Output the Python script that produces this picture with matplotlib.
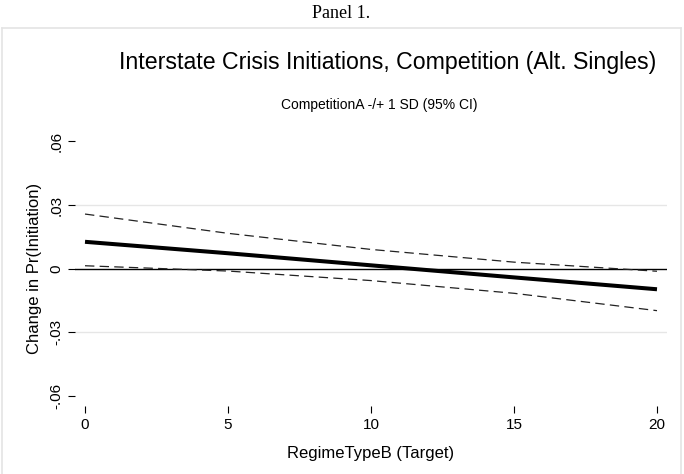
import numpy as np
from matplotlib import pyplot as plt
from matplotlib.lines import Line2D

# Data -------------------------------------------------------------------------
regime_type = [0, 5, 10, 15, 20]
change_pr = [0.0126, 0.0072, 0.0015, -0.0042, -0.0098]
ci_upper = [0.0257, 0.0166, 0.0090, 0.0030, -0.0013]
ci_lower = [0.0013, -0.0012, -0.0057, -0.0117, -0.0199]

x_ticks = [0, 5, 10, 15, 20]
y_ticks = [0.06, 0.03, 0, -0.03, -0.06]
y_tick_labels = ['.06', '.03', '0', '-.03', '-.06']
grid_levels = [0.03, -0.03]

W, H = 684, 474
fig = plt.figure(figsize=(W / 100, H / 100), dpi=100)
plt.rcParams['font.family'] = ['Liberation Sans', 'DejaVu Sans']

# outer frame (faint gray, top / left / right)
frame_color = '#e4e4e4'
for xs, ys in [((2, 681), (28, 28)), ((2, 2), (28, 474)), ((681, 681), (28, 474))]:
    fig.add_artist(Line2D([x / W for x in xs], [1 - y / H for y in ys],
                          color=frame_color, lw=1.2, transform=fig.transFigure))

ax = fig.add_axes([75 / W, 1 - 406 / H, 592 / W, 275 / H])

# grid and zero line
for g in grid_levels:
    ax.axhline(g, color='#e6e6e6', lw=1.0, zorder=1)
ax.axhline(0, color='black', lw=1.0, zorder=2)

# CI bounds and point estimate
ax.plot(regime_type, ci_upper, color='#222222', lw=0.9,
        linestyle=(0, (7.5, 4.2)), zorder=3)
ax.plot(regime_type, ci_lower, color='#222222', lw=0.9,
        linestyle=(0, (7.5, 4.2)), zorder=3)
ax.plot(regime_type, change_pr, color='black', lw=2.9,
        solid_capstyle='butt', zorder=4)

ax.set_xlim(-0.35, 20.35)
ax.set_ylim(-0.0649, 0.0649)

for side in ['top', 'right', 'bottom', 'left']:
    ax.spines[side].set_visible(False)

ax.set_xticks(x_ticks)
ax.set_xticklabels([str(t) for t in x_ticks])
ax.set_yticks(y_ticks)
ax.set_yticklabels(y_tick_labels, rotation=90, va='center')

ax.tick_params(axis='both', direction='out', length=5, width=0.8,
               labelsize=11, color='black')
ax.tick_params(axis='x', pad=3.5)
ax.tick_params(axis='y', pad=3.5)

ax.set_xlabel('RegimeTypeB (Target)', fontsize=12, labelpad=10)
ax.set_ylabel('Change in Pr(Initiation)', fontsize=12, labelpad=5)

# titles
fig.text(388 / W, 1 - 62 / H,
         'Interstate Crisis Initiations, Competition (Alt. Singles)',
         ha='center', va='center', fontsize=16.7)
fig.text(379.5 / W, 1 - 105 / H, 'CompetitionA -/+ 1 SD (95% CI)',
         ha='center', va='center', fontsize=10)
fig.text(341 / W, 1 - 13 / H, 'Panel 1.', ha='center', va='center',
         fontsize=13, family=['Liberation Serif', 'DejaVu Serif'])

plt.savefig('out.png', dpi=100)
